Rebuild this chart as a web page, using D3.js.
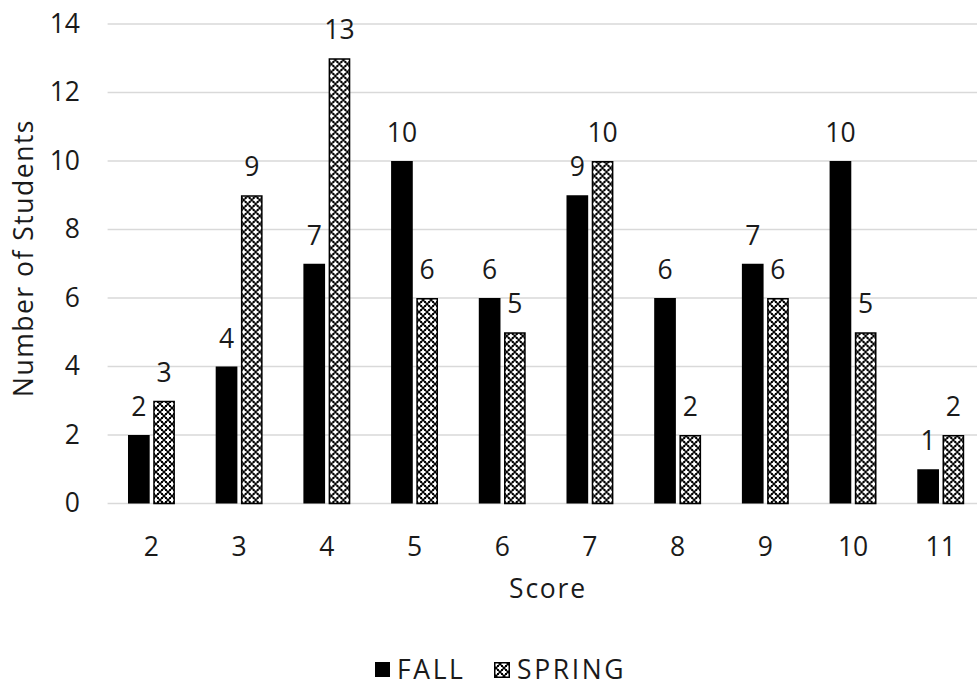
<!DOCTYPE html>
<html>
<head>
<meta charset="utf-8">
<script src="https://cdn.jsdelivr.net/npm/d3@7"></script>
<style>
  html, body { margin: 0; padding: 0; background: #fff; }
  svg { display: block; font-family: "Open Sans", sans-serif; }
</style>
</head>
<body>
<svg id="chart" width="977" height="686"></svg>
<script>
// Scores and the number of students per score, fall and spring terms
const scores = ["2", "3", "4", "5", "6", "7", "8", "9", "10", "11"];
const fallCounts = [2, 4, 7, 10, 6, 9, 6, 7, 10, 1];
const springCounts = [3, 9, 13, 6, 5, 10, 2, 6, 5, 2];
const seriesNames = ["FALL", "SPRING"];
const yTicks = [0, 2, 4, 6, 8, 10, 12, 14];

const svg = d3.select("#chart");
const W = 977;
const plot = { left: 107.6, right: 984.6, top: 24, bottom: 503.5 };
const textColor = "#1a1a1a";
const fontSize = 26.5;

// Checkered fill for the spring series: white crosses on black
const defs = svg.append("defs");
const pat = defs.append("pattern")
  .attr("id", "springPattern")
  .attr("patternUnits", "userSpaceOnUse")
  .attr("width", 8).attr("height", 8);
pat.append("rect").attr("width", 8).attr("height", 8).attr("fill", "#000");
[[0, 0], [4, 4], [8, 0], [0, 8], [8, 8]].forEach(([cx, cy]) => {
  pat.append("rect").attr("x", cx - 2.5).attr("y", cy - 1).attr("width", 5).attr("height", 2).attr("fill", "#fff");
  pat.append("rect").attr("x", cx - 1).attr("y", cy - 2.5).attr("width", 2).attr("height", 5).attr("fill", "#fff");
});

const x0 = d3.scaleBand().domain(scores).range([plot.left, plot.right]).paddingInner(0.465).paddingOuter(0.2325);
const x1 = d3.scaleBand().domain(seriesNames).range([0, x0.bandwidth()]).paddingInner(0.14);
const y = d3.scaleLinear().domain([0, 14]).range([plot.bottom, plot.top]);

// Horizontal gridlines
svg.append("g").selectAll("line").data(yTicks).join("line")
  .attr("x1", plot.left).attr("x2", W)
  .attr("y1", d => y(d)).attr("y2", d => y(d))
  .attr("stroke", "#d9d9d9").attr("stroke-width", 1.5);

// Y axis tick labels
const yAxis = d3.axisLeft(y).tickValues(yTicks).tickSize(0).tickPadding(0);
const gy = svg.append("g").attr("transform", "translate(80,0)").call(yAxis);
gy.select(".domain").remove();
gy.selectAll("text").attr("font-size", fontSize).attr("fill", textColor)
  .attr("font-family", "'Open Sans', sans-serif");

// X axis tick labels
const xAxis = d3.axisBottom(x0).tickSize(0).tickPadding(0);
const gx = svg.append("g").attr("transform", `translate(0,${plot.bottom})`).call(xAxis);
gx.select(".domain").remove();
gx.selectAll("text").attr("font-size", fontSize).attr("fill", textColor)
  .attr("font-family", "'Open Sans', sans-serif")
  .attr("dy", null).attr("y", 52);

const rows = scores.map((s, i) => ({ score: s, values: [
  { key: "FALL", value: fallCounts[i] },
  { key: "SPRING", value: springCounts[i] }
]}));

const groups = svg.append("g").selectAll("g").data(rows).join("g")
  .attr("transform", d => `translate(${x0(d.score)},0)`);

groups.selectAll("rect").data(d => d.values).join("rect")
  .attr("x", d => d.key === "SPRING" ? x1(d.key) + 0.75 : x1(d.key))
  .attr("width", d => d.key === "SPRING" ? x1.bandwidth() - 1.5 : x1.bandwidth())
  .attr("y", d => d.key === "SPRING" ? y(d.value) + 0.75 : y(d.value))
  .attr("height", d => d.key === "SPRING" ? y(0) - y(d.value) - 0.75 : y(0) - y(d.value))
  .attr("fill", d => d.key === "SPRING" ? "url(#springPattern)" : "#000")
  .attr("stroke", d => d.key === "SPRING" ? "#000" : "none")
  .attr("stroke-width", 1.5);

// Value labels above each bar
groups.selectAll("text").data(d => d.values).join("text")
  .attr("x", d => x1(d.key) + x1.bandwidth() / 2)
  .attr("y", d => y(d.value) - 19)
  .attr("text-anchor", "middle")
  .attr("font-size", fontSize).attr("fill", textColor)
  .text(d => d.value);

// Axis titles
svg.append("text")
  .attr("x", 548).attr("y", 598)
  .attr("text-anchor", "middle")
  .attr("font-size", fontSize).attr("letter-spacing", 1.8).attr("fill", textColor)
  .text("Score");

svg.append("text")
  .attr("transform", "translate(33,258) rotate(-90)")
  .attr("text-anchor", "middle")
  .attr("font-size", fontSize).attr("letter-spacing", 1.5).attr("fill", textColor)
  .text("Number of Students");

// Legend
const legendItems = [
  { key: "FALL", x: 375, tx: 397 },
  { key: "SPRING", x: 494, tx: 517 }
];
legendItems.forEach(it => {
  const g = svg.append("g");
  const isSpring = it.key === "SPRING";
  g.append("rect")
    .attr("x", isSpring ? it.x + 0.75 : it.x)
    .attr("y", isSpring ? 662.75 : 662)
    .attr("width", isSpring ? 14.5 : 15)
    .attr("height", isSpring ? 14.5 : 15)
    .attr("fill", isSpring ? "url(#springPattern)" : "#000")
    .attr("stroke", isSpring ? "#000" : "none")
    .attr("stroke-width", 1.5);
  g.append("text")
    .attr("x", it.tx).attr("y", 679)
    .attr("font-size", fontSize).attr("letter-spacing", 2.6).attr("fill", textColor)
    .text(it.key);
});
</script>
</body>
</html>
